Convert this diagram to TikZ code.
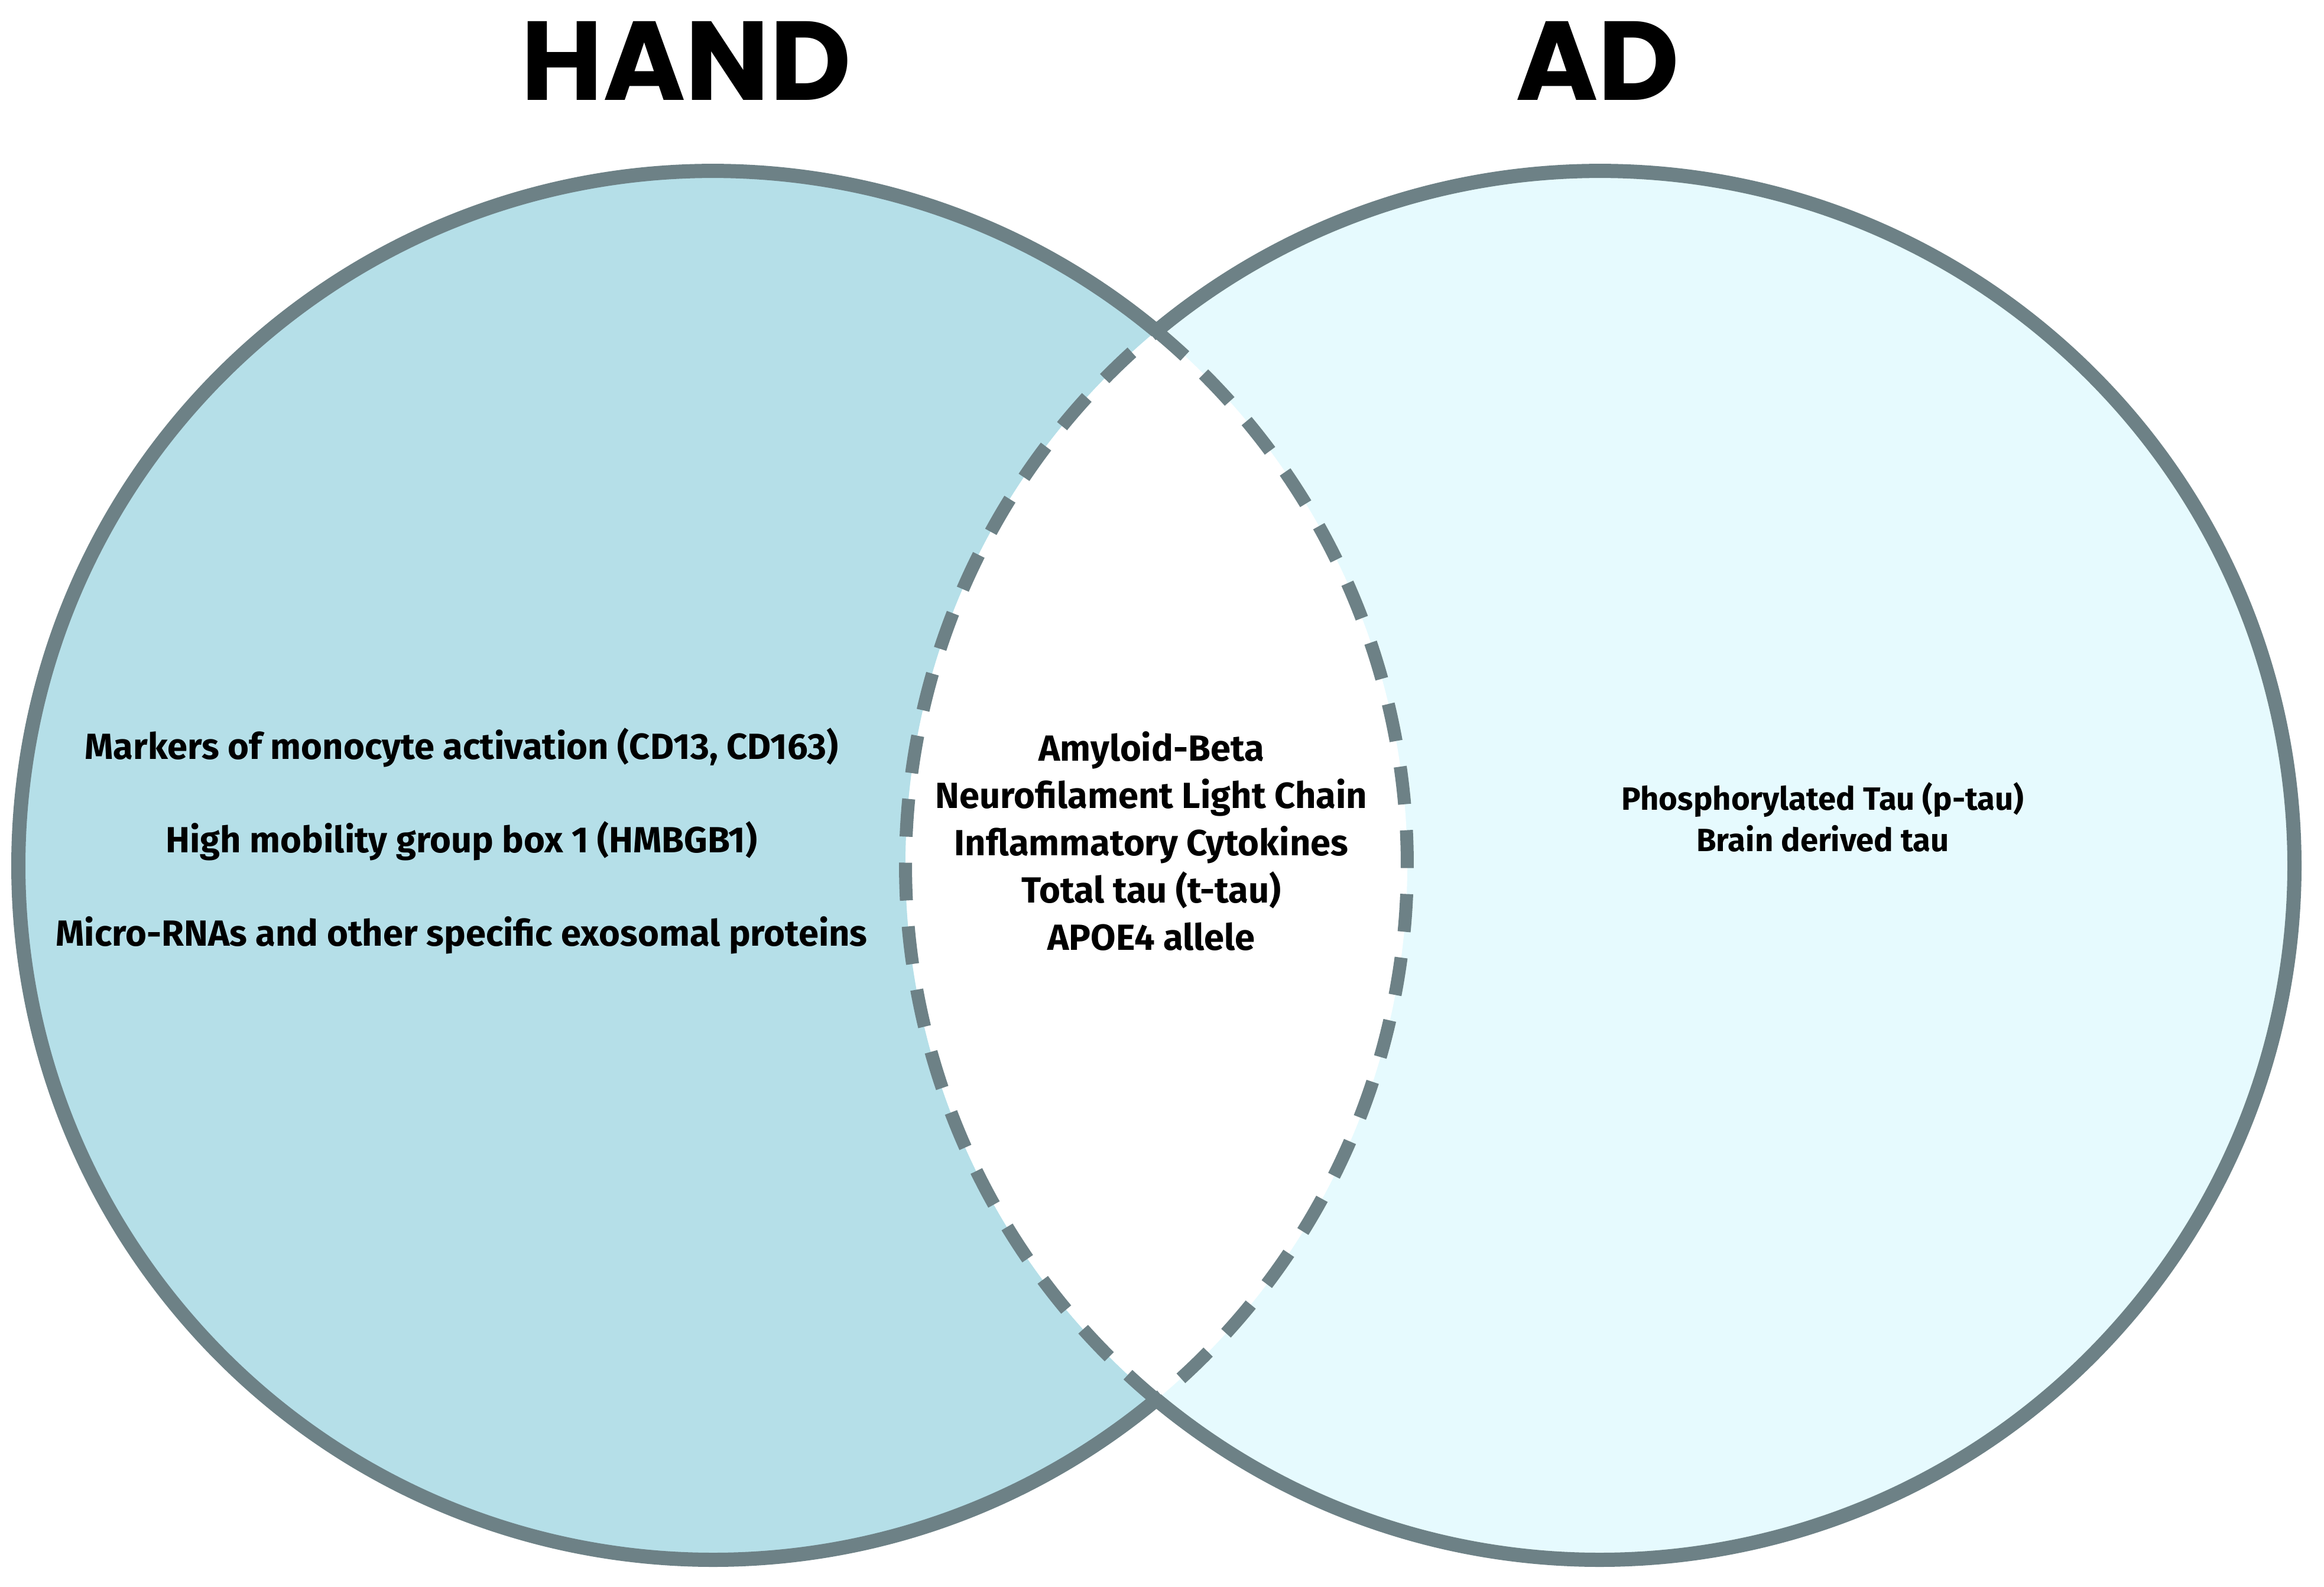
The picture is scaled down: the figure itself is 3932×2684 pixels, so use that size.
\documentclass[tikz,border=0pt]{standalone}
\usepackage{fontspec}
\setmainfont{Fira Sans}
\newfontfamily\titlefont{Poppins}
\definecolor{handfill}{HTML}{B5DFE8}
\definecolor{adfill}{HTML}{E6FAFE}
\definecolor{rimc}{HTML}{6D8186}
\begin{document}
\begin{tikzpicture}[
  x=0.1mm, y=-0.1mm,
  rimline/.style={draw=rimc,line width=2.4mm},
  lens/.style={draw=rimc,line width=2.2mm,dash pattern=on 6.4mm off 4.4mm},
  hdr/.style={font=\titlefont\bfseries\fontsize{54}{60}\selectfont,text=black,inner sep=0pt},
  note/.style={font=\bfseries\fontsize{17.5}{22.7}\selectfont,align=center,inner sep=0pt}]

\useasboundingbox (0,0) rectangle (3932,2684);
\coordinate (cl) at (1206,1464);
\coordinate (cr) at (2707,1464);

% the two sets and the white overlap
\fill[handfill] (cl) circle (1175);
\fill[adfill] (cr) circle (1175);
\begin{scope}
  \clip (cl) circle (1175);
  \fill[white] (cr) circle (1175);
\end{scope}
\draw[rimline] ([shift={(50.3:1175)}]cl) arc (50.3:309.7:1175);
\draw[rimline] ([shift={(129.7:1175)}]cr) arc (129.7:-129.7:1175);
\draw[lens] ([shift={(-50.3:1175)}]cl) arc (-50.3:50.3:1175);
\draw[lens] ([shift={(129.7:1175)}]cr) arc (129.7:230.3:1175);

\node[hdr] (hand) at (1161,103) {HAND};
\node[hdr] (ad) at (2703,103) {AD};

\node[note,font=\bfseries\fontsize{17.5}{45}\selectfont] (handonly) at (781,1423)
  {Markers of monocyte activation (CD13, CD163)\\
   High mobility group box 1 (HMBGB1)\\
   Micro-RNAs and other specific exosomal proteins};
\node[note] (shared) at (1948,1423)
  {Amyloid-Beta\\Neurofilament Light Chain\\Inflammatory Cytokines\\
   Total tau (t-tau)\\APOE4 allele};
\node[note,font=\bfseries\fontsize{15.5}{19.9}\selectfont] (adonly) at (3084,1383)
  {Phosphorylated Tau (p-tau)\\Brain derived tau};
\end{tikzpicture}
\end{document}
